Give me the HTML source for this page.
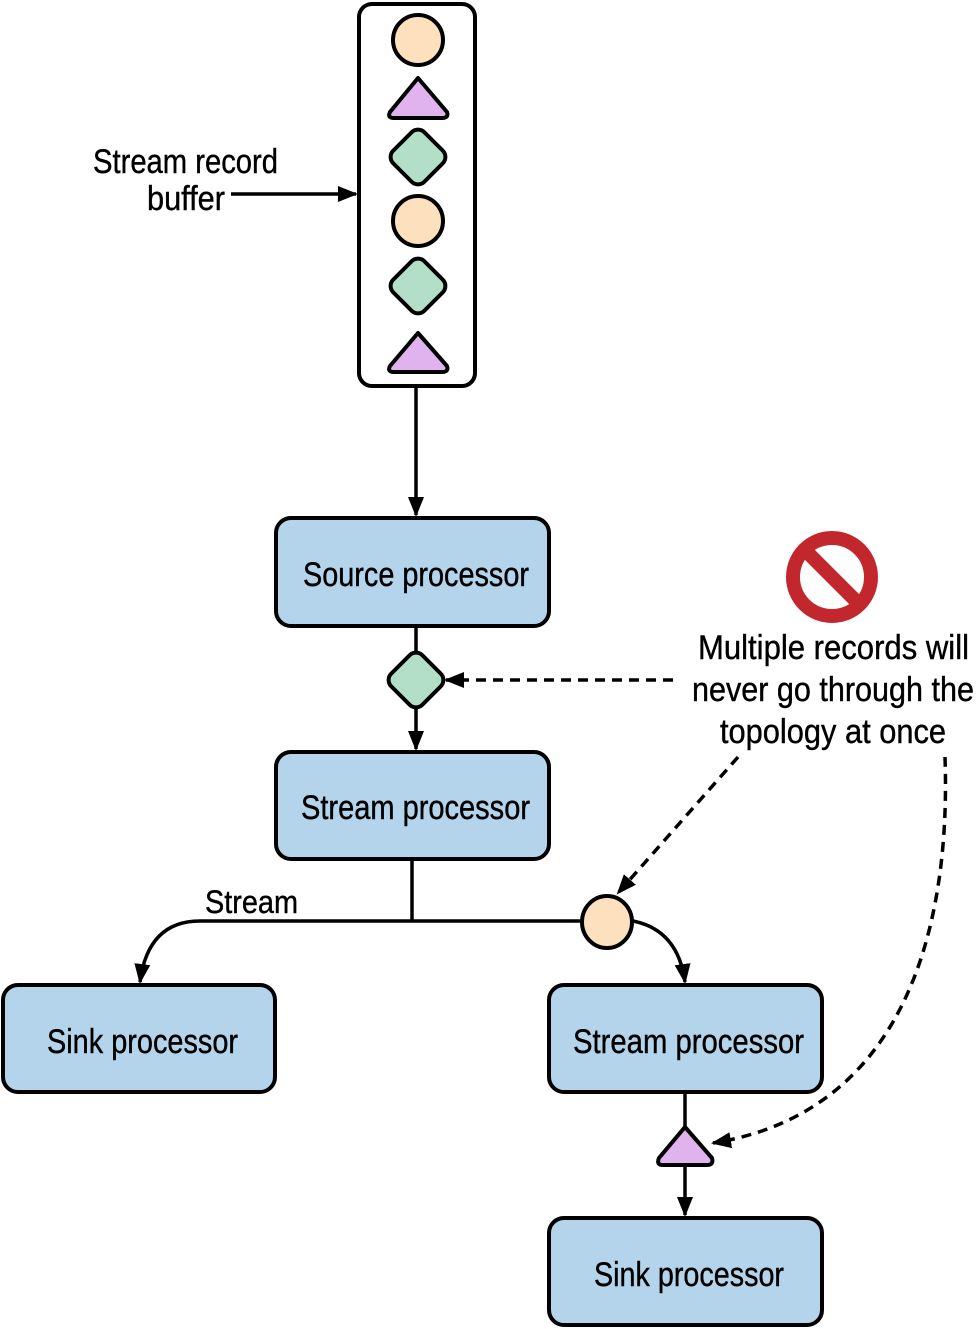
<!DOCTYPE html>
<html><head><meta charset="utf-8"><style>
html,body{margin:0;padding:0;background:#fff;}
svg{display:block;}
text{font-family:"Liberation Sans",sans-serif;fill:#000;}
</style></head><body>
<svg width="976" height="1329" viewBox="0 0 976 1329" xmlns="http://www.w3.org/2000/svg">
<defs>
<marker id="ahb" markerWidth="20" markerHeight="20" refX="18" refY="10" orient="auto" markerUnits="userSpaceOnUse" viewBox="0 0 20 20">
<path d="M0,2 L20,10 L0,18 z" fill="#000"/>
</marker>
</defs>
<g stroke="#000" stroke-width="4" stroke-linejoin="round">
<rect x="359" y="4" width="116" height="382" rx="13" fill="#fff"/>
<circle cx="418" cy="40" r="25" fill="#fde0bd"/>
<path d="M418,78 L447,112 Q449,118 442,118 L394,118 Q387,118 390,112 Z" fill="#e0b3ee"/>
<rect x="396" y="135" width="44" height="44" rx="9" transform="rotate(45 418 157)" fill="#b3dfc8"/>
<circle cx="418" cy="221" r="25" fill="#fde0bd"/>
<rect x="396" y="264" width="44" height="44" rx="9" transform="rotate(45 418 286)" fill="#b3dfc8"/>
<path d="M418,333 L447,366 Q449,372 442,372 L394,372 Q387,372 390,366 Z" fill="#e0b3ee"/>
<line x1="231" y1="194" x2="356" y2="194" stroke-width="3.5" marker-end="url(#ahb)"/>
<line x1="416" y1="388" x2="416" y2="515" stroke-width="3.5" marker-end="url(#ahb)"/>
<line x1="416" y1="626" x2="416" y2="749" stroke-width="3.5" marker-end="url(#ahb)"/>
<line x1="412" y1="859" x2="412" y2="921" stroke-width="3.5"/>
<path d="M580,921 L200,921 Q148,921 140,982" fill="none" stroke-width="3.5" marker-end="url(#ahb)"/>
<path d="M633,921 Q678,930 685,982" fill="none" stroke-width="3.5" marker-end="url(#ahb)"/>
<line x1="685" y1="1092" x2="685" y2="1215" stroke-width="3.5" marker-end="url(#ahb)"/>
<rect x="276" y="518" width="273" height="108" rx="15" fill="#b3d4ea"/>
<rect x="276" y="752" width="273" height="107" rx="15" fill="#b3d4ea"/>
<rect x="3" y="985" width="272" height="107" rx="15" fill="#b3d4ea"/>
<rect x="549" y="985" width="273" height="107" rx="15" fill="#b3d4ea"/>
<rect x="549" y="1218" width="273" height="107" rx="15" fill="#b3d4ea"/>
<rect x="394" y="658" width="44" height="44" rx="9" transform="rotate(45 416 680)" fill="#b3dfc8"/>
<ellipse cx="607" cy="922" rx="25" ry="26" fill="#fde0bd"/>
<path d="M685,1127 L712,1158 Q714,1165 707,1165 L663,1165 Q656,1165 659,1158 Z" fill="#e0b3ee"/>
<line x1="673" y1="680" x2="446" y2="680" stroke-width="3.5" stroke-dasharray="10,7" marker-end="url(#ahb)"/>
<line x1="738" y1="757" x2="618" y2="893" stroke-width="3.5" stroke-dasharray="10,7" marker-end="url(#ahb)"/>
<path d="M945,757 C950,900 920,1110 713,1143" fill="none" stroke-width="3.5" stroke-dasharray="10,7" marker-end="url(#ahb)"/>
</g>
<circle cx="832" cy="577" r="39" fill="none" stroke="#c1272d" stroke-width="14"/>
<line x1="804" y1="549" x2="860" y2="605" stroke="#c1272d" stroke-width="14"/>
<g font-size="34" stroke="#000" stroke-width="0.4">
<text x="93" y="173" textLength="185" lengthAdjust="spacingAndGlyphs">Stream record</text>
<text x="147" y="210" textLength="78" lengthAdjust="spacingAndGlyphs">buffer</text>
<text x="303" y="586" textLength="226" lengthAdjust="spacingAndGlyphs">Source processor</text>
<text x="301" y="819" textLength="229" lengthAdjust="spacingAndGlyphs">Stream processor</text>
<text x="205" y="913" font-size="32" textLength="93" lengthAdjust="spacingAndGlyphs">Stream</text>
<text x="47" y="1053" textLength="191" lengthAdjust="spacingAndGlyphs">Sink processor</text>
<text x="573" y="1053" textLength="231" lengthAdjust="spacingAndGlyphs">Stream processor</text>
<text x="594" y="1286" textLength="190" lengthAdjust="spacingAndGlyphs">Sink processor</text>
<text x="698" y="659" textLength="271" lengthAdjust="spacingAndGlyphs">Multiple records will</text>
<text x="692" y="701" textLength="282" lengthAdjust="spacingAndGlyphs">never go through the</text>
<text x="720" y="743" textLength="226" lengthAdjust="spacingAndGlyphs">topology at once</text>
</g>
</svg>
</body></html>
